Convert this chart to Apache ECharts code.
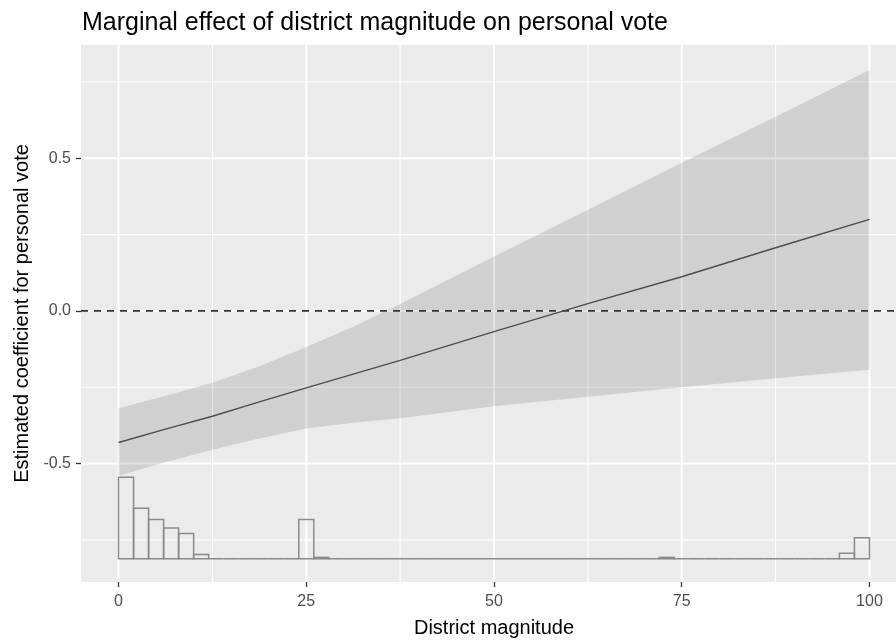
<!DOCTYPE html>
<html>
<head>
<meta charset="utf-8">
<script src="https://cdn.jsdelivr.net/npm/echarts@6/dist/echarts.min.js"></script>
<style>
  html, body { margin: 0; padding: 0; background: #ffffff; }
  #chart { width: 896px; height: 642px; }
</style>
</head>
<body>
<div id="chart"></div>
<script>
// Marginal effect of district magnitude, with its confidence band
const magnitude = [0, 6.25, 12.5, 18.75, 25, 31.25, 37.5, 50, 62.5, 75, 87.5, 100];
const estimate  = [-0.431, -0.387, -0.345, -0.298, -0.252, -0.207, -0.162, -0.068, 0.024, 0.112, 0.207, 0.300];
const ciLower   = [-0.540, -0.496, -0.455, -0.418, -0.385, -0.366, -0.352, -0.312, -0.281, -0.250, -0.221, -0.193];
const ciUpper   = [-0.319, -0.278, -0.235, -0.181, -0.118, -0.052, 0.023, 0.178, 0.331, 0.485, 0.636, 0.789];

// Distribution of district magnitude (bins of width 2)
const histBinStart = [0, 2, 4, 6, 8, 10, 12, 14, 16, 18, 20, 22, 24, 26, 28, 30, 32, 34, 36, 38,
                      40, 42, 44, 46, 48, 50, 52, 54, 56, 58, 60, 62, 64, 66, 68, 70, 72, 74, 76, 78,
                      80, 82, 84, 86, 88, 90, 92, 94, 96, 98];
const histCount    = [58, 36, 28, 22, 18, 3, 0, 0, 0, 0, 0, 0, 28, 1, 0, 0, 0, 0, 0, 0,
                      0, 0, 0, 0, 0, 0, 0, 0, 0, 0, 0, 0, 0, 0, 0, 0, 1, 0, 0, 0,
                      0, 0, 0, 0, 0, 0, 0, 0, 4, 15];
const histBinWidth = 2;
const histBase = -0.812;   // y value where the histogram sits
const histUnit = 0.0046;   // y units per observation

// Axis ticks and grid lines
const xTicks = [0, 25, 50, 75, 100];
const xMinorGrid = [12.5, 37.5, 62.5, 87.5];
const yTicks = [-0.5, 0, 0.5];
const yMinorGrid = [-0.75, -0.25, 0.25, 0.75];
const refLine = [0];

const xMin = -5, xMax = 105;
const yMin = -0.888, yMax = 0.871;

const FONT = 'Liberation Sans, Arial, Helvetica, sans-serif';

function vGrid(values, width) {
  return {
    type: 'custom', coordinateSystem: 'cartesian2d', silent: true,
    data: values.map(v => [v]), encode: { x: 0 },
    renderItem: (p, api) => {
      const a = api.coord([api.value(0), yMin]);
      const b = api.coord([api.value(0), yMax]);
      return { type: 'line', shape: { x1: a[0], y1: a[1], x2: b[0], y2: b[1] },
               style: { stroke: '#ffffff', lineWidth: width } };
    }
  };
}
function hGrid(values, width, stroke, dash) {
  return {
    type: 'custom', coordinateSystem: 'cartesian2d', silent: true,
    data: values.map(v => [v]), encode: { y: 0 },
    renderItem: (p, api) => {
      const a = api.coord([xMin, api.value(0)]);
      const b = api.coord([xMax, api.value(0)]);
      return { type: 'line', shape: { x1: a[0], y1: a[1], x2: b[0], y2: b[1] },
               style: { stroke: stroke || '#ffffff', lineWidth: width, lineDash: dash || null } };
    }
  };
}

const chart = echarts.init(document.getElementById('chart'), null, { renderer: 'canvas' });

chart.setOption({
  animation: false,
  backgroundColor: '#ffffff',
  textStyle: { fontFamily: FONT },
  title: {
    text: 'Marginal effect of district magnitude on personal vote',
    left: 77, top: 6,
    textStyle: { fontFamily: FONT, fontSize: 25, fontWeight: 'normal', color: '#000000' }
  },
  grid: {
    left: 81, top: 45, width: 826, height: 537,
    outerBoundsMode: 'none', containLabel: false,
    show: true, backgroundColor: '#ebebeb', borderWidth: 0
  },
  xAxis: {
    type: 'value', min: xMin, max: xMax,
    axisLine: { show: false, onZero: false },
    axisTick: { show: true, customValues: xTicks, length: 5, lineStyle: { color: '#333333', width: 1.3 } },
    axisLabel: { customValues: xTicks, color: '#4d4d4d', fontSize: 16, margin: 12, fontFamily: FONT },
    splitLine: { show: false },
    name: 'District magnitude', nameLocation: 'middle', nameGap: 36,
    nameTextStyle: { fontSize: 20, color: '#000000', fontFamily: FONT }
  },
  yAxis: {
    type: 'value', min: yMin, max: yMax,
    axisLine: { show: false, onZero: false },
    axisTick: { show: true, customValues: yTicks, length: 5, lineStyle: { color: '#333333', width: 1.3 } },
    axisLabel: { customValues: yTicks, color: '#4d4d4d', fontSize: 16, margin: 10, fontFamily: FONT,
                 formatter: v => v.toFixed(1) },
    splitLine: { show: false },
    name: 'Estimated coefficient for personal vote', nameLocation: 'middle', nameGap: 48,
    nameTextStyle: { fontSize: 20, color: '#000000', fontFamily: FONT }
  },
  series: [
    vGrid(xMinorGrid, 1.1),
    hGrid(yMinorGrid, 1.1),
    vGrid(xTicks, 2),
    hGrid(yTicks, 2),
    {
      // confidence band: one polygon, upper edge left to right, lower edge back
      name: 'band', type: 'custom', coordinateSystem: 'cartesian2d', silent: true,
      data: magnitude.map((m, i) => [m, ciLower[i], ciUpper[i]]),
      encode: { x: 0, y: [1, 2] },
      renderItem: (p, api) => {
        if (p.dataIndex !== 0) return null;
        const pts = [];
        for (let i = 0; i < magnitude.length; i++) pts.push(api.coord([magnitude[i], ciUpper[i]]));
        for (let i = magnitude.length - 1; i >= 0; i--) pts.push(api.coord([magnitude[i], ciLower[i]]));
        return { type: 'polygon', shape: { points: pts }, style: { fill: 'rgba(0,0,0,0.115)' } };
      }
    },
    {
      name: 'histogram', type: 'custom', coordinateSystem: 'cartesian2d', silent: true,
      data: histBinStart.map((s, i) => [s, s + histBinWidth, histCount[i]]),
      encode: { x: [0, 1], y: 2 },
      renderItem: (p, api) => {
        const p0 = api.coord([api.value(0), histBase]);
        const p1 = api.coord([api.value(1), histBase + api.value(2) * histUnit]);
        return {
          type: 'rect',
          shape: { x: p0[0], y: p1[1], width: p1[0] - p0[0], height: p0[1] - p1[1] },
          style: { fill: 'none', stroke: '#8a8a8a', lineWidth: 1.5 }
        };
      }
    },
    {
      name: 'estimate', type: 'line',
      data: magnitude.map((m, i) => [m, estimate[i]]),
      symbol: 'none', lineStyle: { color: '#4d4d4d', width: 1.4 }, silent: true
    },
    hGrid(refLine, 1.8, '#333333', [7, 6])
  ]
});
</script>
</body>
</html>
